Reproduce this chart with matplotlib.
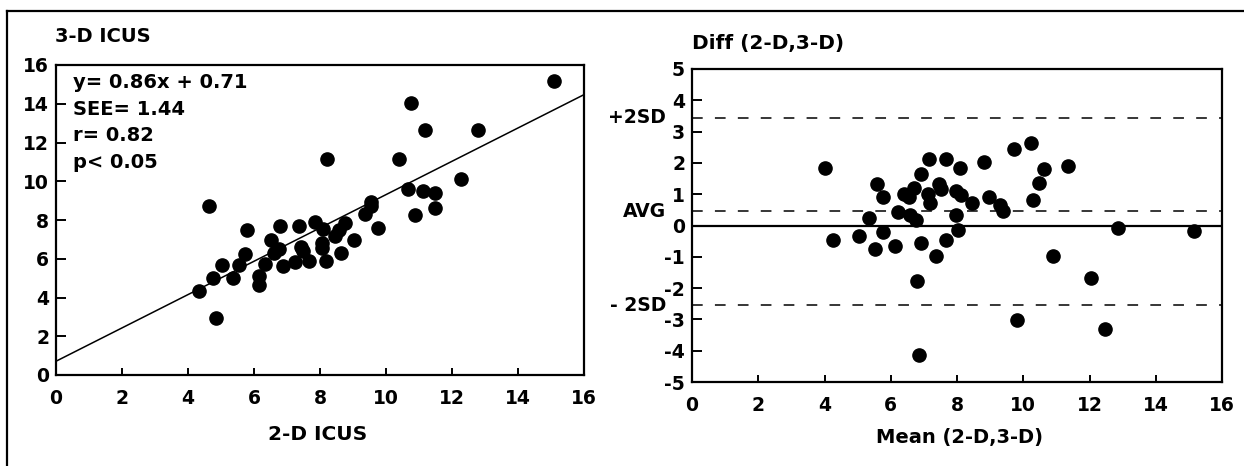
import matplotlib as mpl
mpl.use('Agg')
import matplotlib.pyplot as plt
from matplotlib.lines import Line2D

plt.rcParams['font.family'] = ['DejaVu Sans']
plt.rcParams['font.weight'] = 'bold'
plt.rcParams['axes.unicode_minus'] = False

# left panel: 2-D vs 3-D ICUS
icus_2d = [15.08, 10.77, 11.17, 12.78, 8.20, 10.38, 12.27, 10.67, 11.11, 11.47,
           11.49, 10.87, 9.55, 9.55, 9.37, 9.75, 4.64, 5.78, 6.80, 7.36,
           7.84, 8.08, 8.77, 8.58, 8.46, 9.04, 6.52, 8.05, 8.05, 7.42,
           7.48, 6.76, 6.62, 8.65, 5.74, 6.32, 6.88, 7.24, 7.66, 8.17,
           5.03, 5.56, 5.35, 4.76, 6.14, 6.14, 4.34, 4.85]
icus_3d = [15.19, 14.03, 12.66, 12.66, 11.17, 11.17, 10.11, 9.62, 9.48, 9.41,
           8.61, 8.26, 8.95, 8.73, 8.30, 7.58, 8.73, 7.49, 7.67, 7.70,
           7.92, 7.53, 7.87, 7.49, 7.19, 6.98, 6.98, 6.80, 6.55, 6.61,
           6.38, 6.50, 6.30, 6.30, 6.25, 5.73, 5.65, 5.85, 5.87, 5.87,
           5.66, 5.68, 5.01, 5.01, 5.10, 4.67, 4.33, 2.96]
slope, intercept = 0.86, 0.71
stats_lines = ['y= 0.86x + 0.71', 'SEE= 1.44', 'r= 0.82', 'p< 0.05']

# right panel: Bland-Altman
ba_mean = [4.01, 4.26, 5.03, 5.33, 5.51, 5.58, 5.76, 5.78, 6.14, 6.22,
           6.40, 6.56, 6.70, 6.58, 6.76, 6.92, 6.92, 6.78, 6.84, 7.12,
           7.16, 7.18, 7.38, 7.46, 7.52, 7.66, 7.66, 7.98, 7.98, 8.04,
           8.10, 8.12, 8.46, 8.80, 8.96, 9.30, 9.40, 9.72, 9.82, 10.22,
           10.30, 10.48, 10.64, 10.90, 11.36, 12.05, 12.47, 12.86, 15.16]
ba_diff = [1.84, -0.45, -0.34, 0.24, -0.74, 1.33, 0.91, -0.20, -0.66, 0.44,
           1.01, 0.90, 1.20, 0.35, 0.17, 1.63, -0.55, -1.78, -4.15, 1.02,
           2.13, 0.72, -0.98, 1.33, 1.18, 2.13, -0.45, 1.10, 0.35, -0.15,
           1.84, 0.99, 0.72, 2.02, 0.90, 0.65, 0.46, 2.45, -3.03, 2.62,
           0.81, 1.36, 1.81, -0.98, 1.89, -1.67, -3.30, -0.07, -0.18]
avg_diff = 0.45
sd2_hi, sd2_lo = 3.45, -2.55
ref_labels = ['+2SD', 'AVG', '- 2SD']

W, H = 1244, 466
fig = plt.figure(figsize=(W / 100, H / 100), dpi=100)

def px_axes(x0, y0, x1, y1):
    return fig.add_axes([x0 / W, 1 - y1 / H, (x1 - x0) / W, (y1 - y0) / H])

def style(ax):
    for s in ax.spines.values():
        s.set_linewidth(1.6)
    ax.tick_params(direction='in', width=1.4, labelsize=13.5)
    ax.tick_params(axis='x', length=5, pad=10)
    ax.tick_params(axis='y', length=7, pad=5)
    for lab in ax.get_xticklabels() + ax.get_yticklabels():
        lab.set_fontweight('bold')

# outer frame (top and left edges)
fig.add_artist(Line2D([7 / W, 1], [1 - 11 / H, 1 - 11 / H], color='black', lw=1.6))
fig.add_artist(Line2D([7 / W, 7 / W], [0, 1 - 11 / H], color='black', lw=1.6))

ax1 = px_axes(56, 65, 584, 375)
ax1.plot(icus_2d, icus_3d, 'o', color='black', ms=9.5, mec='black')
ax1.plot([0, 16], [intercept, slope * 16 + intercept], color='black', lw=1.1)
ax1.set_xlim(0, 16)
ax1.set_ylim(0, 16)
ax1.set_xticks(range(0, 17, 2))
ax1.set_yticks(range(0, 17, 2))
style(ax1)
for i, t in enumerate(stats_lines):
    ax1.text(0.032, 0.942 - i * 0.085, t, transform=ax1.transAxes,
             fontsize=14, fontweight='bold', va='center', ha='left')
fig.text(55 / W, 1 - 37 / H, '3-D ICUS', fontsize=14, fontweight='bold',
         va='center', ha='left')
fig.text(318 / W, 1 - 435 / H, '2-D ICUS', fontsize=14.5, fontweight='bold',
         va='center', ha='center')

ax2 = px_axes(692, 69, 1222, 382)
ax2.plot(ba_mean, ba_diff, 'o', color='black', ms=9.5, mec='black')
ax2.axhline(0, color='black', lw=1.6)
for yv in (sd2_hi, avg_diff, sd2_lo):
    ax2.axhline(yv, color='black', lw=1.1, dashes=(7, 8))
ax2.set_xlim(0, 16)
ax2.set_ylim(-5, 5)
ax2.set_xticks(range(0, 17, 2))
ax2.set_yticks(range(-5, 6))
style(ax2)
for lab, yv in zip(ref_labels, (sd2_hi, avg_diff, sd2_lo)):
    ax2.text(-0.049, yv, lab, transform=ax2.get_yaxis_transform(),
             fontsize=13.5, fontweight='bold', va='center', ha='right')
fig.text(692 / W, 1 - 43 / H, 'Diff (2-D,3-D)', fontsize=14.5, fontweight='bold',
         va='center', ha='left')
fig.text(959 / W, 1 - 438 / H, 'Mean (2-D,3-D)', fontsize=14, fontweight='bold',
         va='center', ha='center')

fig.savefig('out.png', dpi=100)
